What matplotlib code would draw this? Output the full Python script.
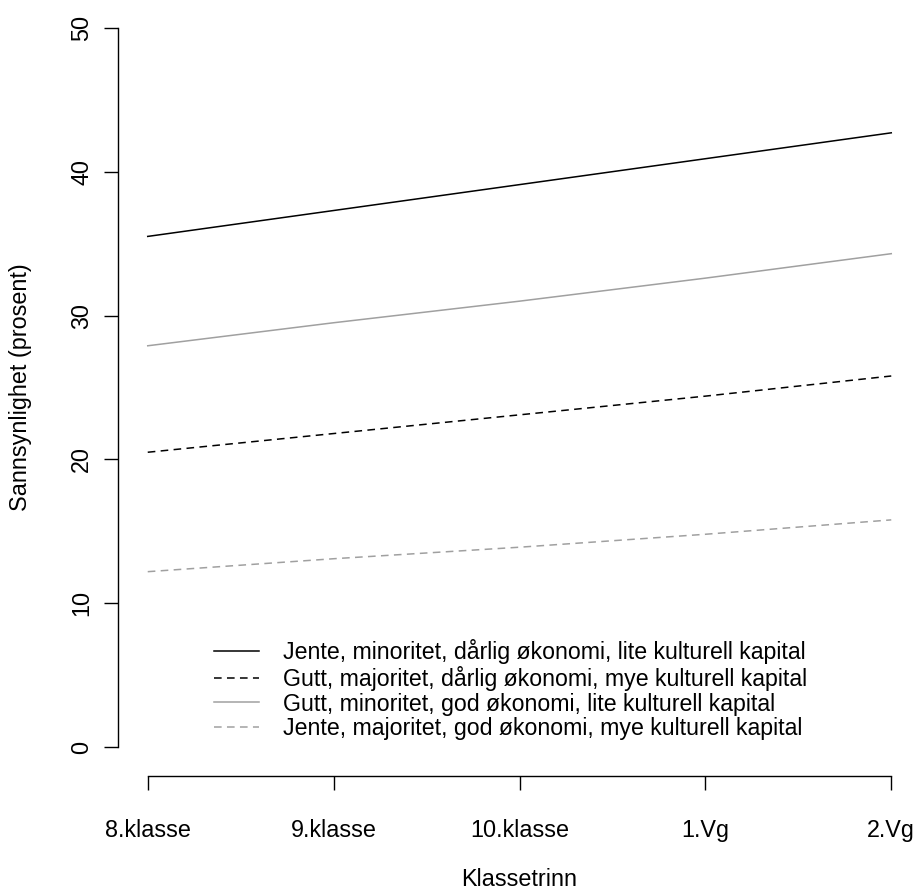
#!/usr/bin/python

import matplotlib
matplotlib.use("Agg")
import matplotlib.pyplot as plt

grades = ["8.klasse", "9.klasse", "10.klasse", "1.Vg", "2.Vg"]
grade_pos = [1, 2, 3, 4, 5]

jente_min = [35.5, 37.3, 39.1, 40.9, 42.7]
gutt_maj = [20.5, 21.8, 23.1, 24.4, 25.8]
gutt_min = [27.9, 29.5, 31.0, 32.6, 34.3]
jente_maj = [12.2, 13.1, 13.9, 14.8, 15.8]

labels = [
    "Jente, minoritet, dårlig økonomi, lite kulturell kapital",
    "Gutt, majoritet, dårlig økonomi, mye kulturell kapital",
    "Gutt, minoritet, god økonomi, lite kulturell kapital",
    "Jente, majoritet, god økonomi, mye kulturell kapital",
]

plt.rcParams["font.family"] = ["Liberation Sans", "DejaVu Sans"]
fs = 16.8

W, H = 917, 892
fig = plt.figure(figsize=(W / 100, H / 100), dpi=100)
# plot region in pixels (R style, 4% padding)
left, right, top, bottom = 118, 921, -1, 776
ax = fig.add_axes([left / W, 1 - bottom / H, (right - left) / W, (bottom - top) / H])
ax.set_xlim(0.84, 5.16)
ax.set_ylim(-2, 52)

dash = (0, (5, 3.5))
ax.plot(grade_pos, jente_min, color="black", lw=1.1, label=labels[0])
ax.plot(grade_pos, gutt_maj, color="black", lw=1.1, linestyle=dash, label=labels[1])
ax.plot(grade_pos, gutt_min, color="#a0a0a0", lw=1.1, label=labels[2])
ax.plot(grade_pos, jente_maj, color="#a0a0a0", lw=1.1, linestyle=dash, label=labels[3])

for s in ["top", "right"]:
    ax.spines[s].set_visible(False)
ax.spines["left"].set_bounds(0, 50)
ax.spines["bottom"].set_bounds(1, 5)
ax.spines["left"].set_linewidth(1.0)
ax.spines["bottom"].set_linewidth(1.0)

ax.set_yticks([0, 10, 20, 30, 40, 50])
ax.set_yticklabels(["0", "10", "20", "30", "40", "50"], rotation=90, va="center")
ax.set_xticks(grade_pos)
ax.set_xticklabels(grades)
ax.tick_params(axis="both", length=10, width=1.0, labelsize=fs, direction="out")
ax.tick_params(axis="x", pad=21)
ax.tick_params(axis="y", pad=8)

fig.text(21 / W, 1 - 387 / H, "Sannsynlighet (prosent)", rotation=90,
         ha="center", va="center", fontsize=fs)
fig.text(519 / W, 1 - 880 / H, "Klassetrinn", ha="center", va="center", fontsize=fs)

ax.legend(loc="upper left", bbox_to_anchor=(193 / W, 1 - 618 / H),
          bbox_transform=fig.transFigure, frameon=False, fontsize=16.7,
          handlelength=1.95, handletextpad=1.05, labelspacing=0.08)

fig.savefig("out.png", dpi=100)
